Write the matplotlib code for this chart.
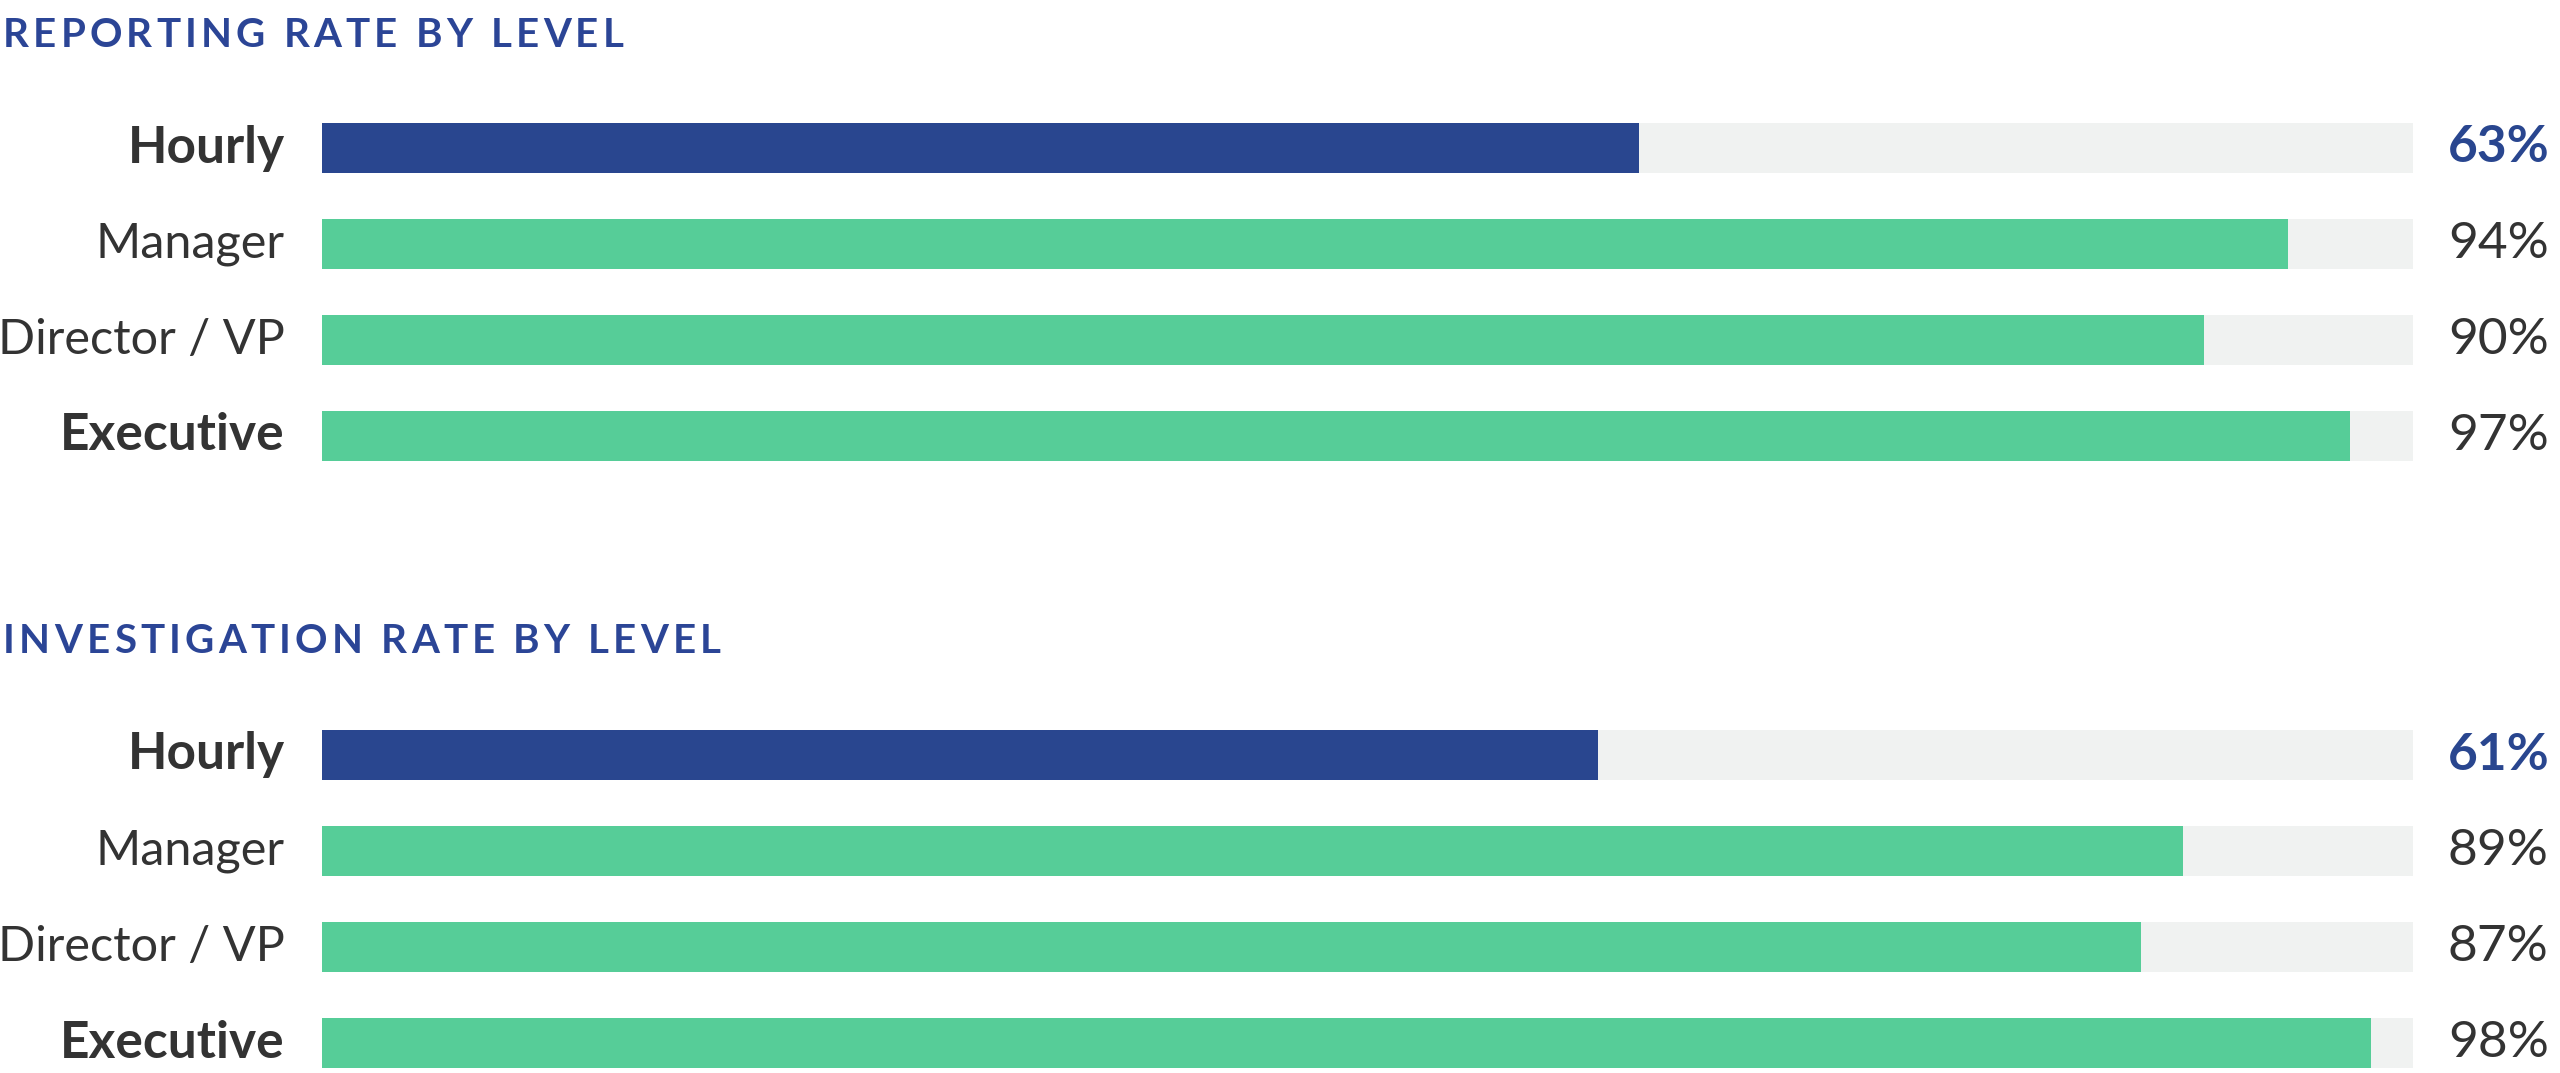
import matplotlib
matplotlib.use("Agg")
import matplotlib.pyplot as plt
from matplotlib.font_manager import FontProperties

# ---- data ----
levels = ["Hourly", "Manager", "Director / VP", "Executive"]
reporting_rate = [63, 94, 90, 97]
investigation_rate = [61, 89, 87, 98]
titles = ["REPORTING RATE BY LEVEL", "INVESTIGATION RATE BY LEVEL"]
bold_levels = ["Hourly", "Executive"]
highlight_level = "Hourly"

# ---- style ----
W, H, DPI = 2560, 1073, 100
BLUE = "#29468F"
GREEN = "#56CD98"
TRACK = "#F0F2F1"
TEXT = "#333333"
TITLE = "#2B4596"
FONT = "Lato"

fig = plt.figure(figsize=(W / DPI, H / DPI), dpi=DPI)
fig.patch.set_facecolor("white")

left_px, right_px = 322, 2413
row_px = 96.0
bar_h = 0.53
ylim = (3 + bar_h / 2, -0.5)
ax_h_px = (ylim[0] - ylim[1]) * row_px


def make_axes(top_px):
    ax = fig.add_axes([left_px / W, 1 - (top_px + ax_h_px) / H,
                       (right_px - left_px) / W, ax_h_px / H])
    ax.set_xlim(0, 100)
    ax.set_ylim(*ylim)
    ax.axis("off")
    return ax


def tracked_title(x_px, y_px, s, spacing_px, size):
    renderer = fig.canvas.get_renderer()
    prop = FontProperties(family=FONT, weight="bold", size=size)
    for i, ch in enumerate(s):
        if ch == " ":
            continue
        w = renderer.get_text_width_height_descent(s[:i], prop, ismath=False)[0] if i else 0
        x = x_px + w + i * spacing_px
        fig.text(x / W, 1 - y_px / H, ch, fontproperties=prop, color=TITLE,
                 ha="left", va="baseline")


def draw_section(ax, values):
    y = list(range(len(levels)))
    ax.barh(y, [100] * len(levels), height=bar_h, color=TRACK, linewidth=0)
    colors = [BLUE if lv == highlight_level else GREEN for lv in levels]
    ax.barh(y, values, height=bar_h, color=colors, linewidth=0)
    for yi, lv, v in zip(y, levels, values):
        bold = lv in bold_levels
        ax.text(-37 / (right_px - left_px), yi, lv, transform=ax.get_yaxis_transform(),
                ha="right", va="center", fontsize=37 if bold else 35, family=FONT,
                weight="bold" if bold else "normal", color=TEXT)
        hl = lv == highlight_level
        ax.text(1 + 35 / (right_px - left_px), yi, f"{v}%", transform=ax.get_yaxis_transform(),
                ha="left", va="center", fontsize=37, family=FONT,
                weight="bold" if hl else "normal", color=BLUE if hl else TEXT)


ax1 = make_axes(148 - row_px / 2)
draw_section(ax1, reporting_rate)
ax2 = make_axes(755 - row_px / 2)
draw_section(ax2, investigation_rate)

tracked_title(3, 47, titles[0], 4.2, 29)
tracked_title(3, 653, titles[1], 4.2, 29)

fig.savefig("out.png", dpi=DPI, facecolor="white")
